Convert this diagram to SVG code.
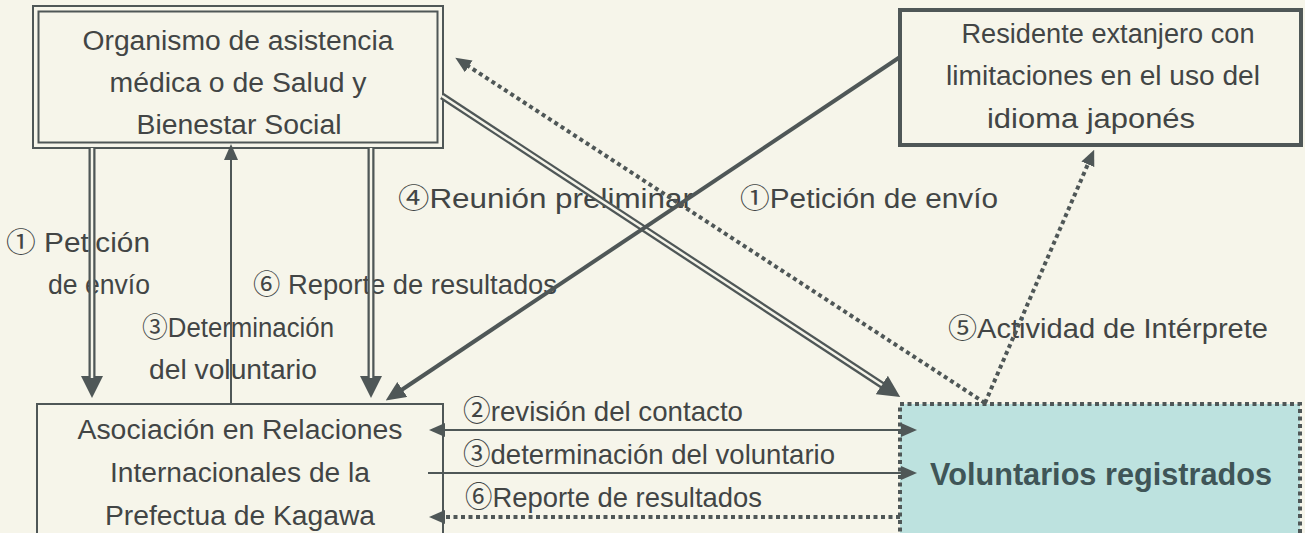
<svg xmlns="http://www.w3.org/2000/svg" width="1305" height="533" viewBox="0 0 1305 533">
<style>
.t{font-family:"Liberation Sans","Noto Sans CJK JP",sans-serif;fill:#424545;}
.box{font-size:27px;}
.lab{font-size:27px;}
.nar{font-size:28px;}
.ln{stroke:#4f5757;fill:none;}
.gap{stroke:#f6f5ea;fill:none;}
.dot{stroke:#4f5757;fill:none;stroke-width:4;stroke-dasharray:4 3.5;}
</style>
<defs>
<marker id="big" viewBox="0 0 22 22" refX="11" refY="11" markerWidth="22" markerHeight="22" markerUnits="userSpaceOnUse" orient="auto">
<path d="M0,0 L22,11 L0,22 z" fill="#4f5757"/>
</marker>
<marker id="mid" viewBox="0 0 20 18" refX="10" refY="9" markerWidth="20" markerHeight="18" markerUnits="userSpaceOnUse" orient="auto">
<path d="M0,0 L20,9 L0,18 z" fill="#4f5757"/>
</marker>
<marker id="sm" viewBox="0 0 16 14" refX="8" refY="7" markerWidth="16" markerHeight="14" markerUnits="userSpaceOnUse" orient="auto">
<path d="M0,0 L16,7 L0,14 z" fill="#4f5757"/>
</marker>
<marker id="smS" viewBox="0 0 16 14" refX="8" refY="7" markerWidth="16" markerHeight="14" markerUnits="userSpaceOnUse" orient="auto-start-reverse">
<path d="M0,0 L16,7 L0,14 z" fill="#4f5757"/>
</marker>
</defs>
<rect x="0" y="0" width="1305" height="533" fill="#f6f5ea"/>

<g id="organismo">
<rect x="33" y="6" width="410" height="142" fill="none" stroke="#4f5757" stroke-width="2"/>
<rect x="38.5" y="11.5" width="399" height="131" fill="none" stroke="#4f5757" stroke-width="2"/>
<text class="t box" x="238" y="50" text-anchor="middle" textLength="311" lengthAdjust="spacingAndGlyphs">Organismo de asistencia</text>
<text class="t box" x="238" y="92" text-anchor="middle" textLength="257" lengthAdjust="spacingAndGlyphs">médica o de Salud y</text>
<text class="t box" x="239" y="134" text-anchor="middle" textLength="205" lengthAdjust="spacingAndGlyphs">Bienestar Social</text>
</g>

<g id="residente">
<rect x="900" y="10" width="401" height="135" fill="none" stroke="#4f5757" stroke-width="4"/>
<text class="t box" x="1108" y="43" text-anchor="middle" textLength="293" lengthAdjust="spacingAndGlyphs">Residente extanjero con</text>
<text class="t box" x="1103" y="85" text-anchor="middle" textLength="314" lengthAdjust="spacingAndGlyphs">limitaciones en el uso del</text>
<text class="t box" x="1091" y="128" text-anchor="middle" textLength="208" lengthAdjust="spacingAndGlyphs">idioma japonés</text>
</g>

<g id="asociacion">
<rect x="37" y="404" width="406" height="140" fill="none" stroke="#4f5757" stroke-width="2"/>
<text class="t box" x="240" y="439" text-anchor="middle" textLength="325" lengthAdjust="spacingAndGlyphs">Asociación en Relaciones</text>
<text class="t box" x="240" y="482" text-anchor="middle" textLength="260" lengthAdjust="spacingAndGlyphs">Internacionales de la</text>
<text class="t box" x="240" y="525" text-anchor="middle" textLength="270" lengthAdjust="spacingAndGlyphs">Prefectua de Kagawa</text>
</g>

<g id="voluntarios">
<rect x="900" y="404" width="400" height="140" fill="#bde2df" stroke="#4f5757" stroke-width="4" stroke-dasharray="4 3.5"/>
<text class="t" x="1101" y="485" text-anchor="middle" font-size="31" font-weight="bold" textLength="342" lengthAdjust="spacingAndGlyphs" style="fill:#3f5557">Voluntarios registrados</text>
</g>

<g id="labels">
<text class="t lab" x="6" y="252" textLength="144" lengthAdjust="spacingAndGlyphs">①  Petición</text>
<text class="t lab" x="48" y="294" textLength="102" lengthAdjust="spacingAndGlyphs">de envío</text>
<text class="t lab" x="142" y="337" textLength="192" lengthAdjust="spacingAndGlyphs">③Determinación</text>
<text class="t lab" x="149" y="379" textLength="168" lengthAdjust="spacingAndGlyphs">del voluntario</text>
<text class="t lab" x="253" y="294" textLength="304" lengthAdjust="spacingAndGlyphs">⑥ Reporte de resultados</text>
<text class="t lab" x="398" y="208" textLength="295" lengthAdjust="spacingAndGlyphs">④Reunión  preliminar</text>
<text class="t lab" x="740" y="208" textLength="258" lengthAdjust="spacingAndGlyphs">①Petición de envío</text>
<text class="t lab" x="948" y="338" textLength="320" lengthAdjust="spacingAndGlyphs">⑤Actividad de Intérprete</text>
<text class="t nar" x="463" y="421" textLength="280" lengthAdjust="spacingAndGlyphs">②revisión del contacto</text>
<text class="t nar" x="463" y="464" textLength="372" lengthAdjust="spacingAndGlyphs">③determinación del voluntario</text>
<text class="t nar" x="465" y="507" textLength="297" lengthAdjust="spacingAndGlyphs">⑥Reporte de resultados</text>
</g>

<g id="connectors">
<path class="ln" d="M92,148 L92,387" stroke-width="7" marker-end="url(#big)"/>
<path class="gap" d="M92,148 L92,378" stroke-width="2.5"/>
<path class="ln" d="M371,148 L371,387" stroke-width="7" marker-end="url(#big)"/>
<path class="gap" d="M371,148 L371,378" stroke-width="2.5"/>
<path class="ln" d="M231,404 L231,152" stroke-width="2" marker-end="url(#sm)"/>
<path class="ln" d="M442,96 L891,391" stroke-width="7" marker-end="url(#big)"/>
<path class="gap" d="M442,96 L882,385" stroke-width="2.5"/>
<path class="ln" d="M900,57 L394,395" stroke-width="4" marker-end="url(#mid)"/>
<path class="dot" d="M985,403 L462,62" marker-end="url(#sm)"/>
<path class="dot" d="M985,403 L1091,157" marker-end="url(#sm)"/>
<path class="ln" d="M437,430 L909,430" stroke-width="2" marker-start="url(#smS)" marker-end="url(#sm)"/>
<path class="ln" d="M428,473 L909,473" stroke-width="2" marker-end="url(#sm)"/>
<path class="dot" d="M900,517 L437,517" marker-end="url(#sm)"/>
</g>
</svg>
